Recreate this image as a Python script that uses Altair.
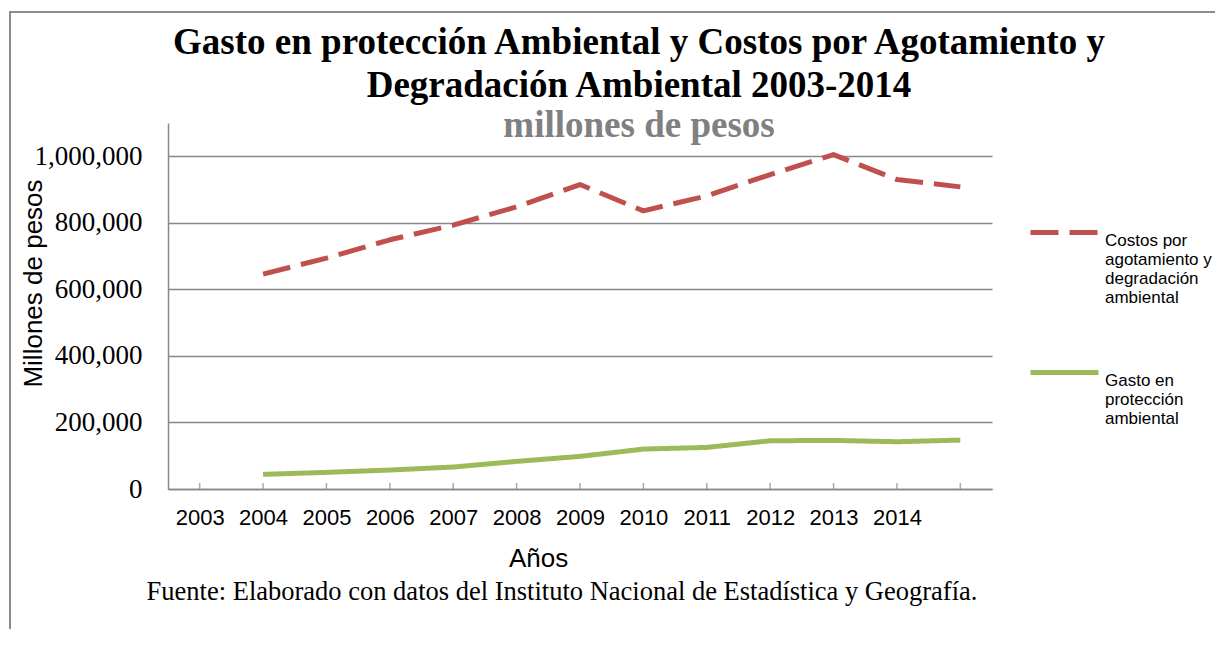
import json
import altair as alt
import pandas as pd

# ---- data ----
years = ["2003", "2004", "2005", "2006", "2007", "2008",
         "2009", "2010", "2011", "2012", "2013", "2014"]
costos = [646000, 694000, 749000, 793000, 848000, 915000,
          836000, 881000, 945000, 1005000, 930000, 908000]
gasto = [44000, 50000, 57000, 66000, 83000, 98000,
         120000, 125000, 145000, 146000, 142000, 147000]

s_costos = "Costos por agotamiento y degradación ambiental"
s_gasto = "Gasto en protección ambiental"
legend_lines = {
    s_costos: ["Costos por", "agotamiento y", "degradación", "ambiental"],
    s_gasto: ["Gasto en", "protección", "ambiental"],
}
y_ticks = [0, 200000, 400000, 600000, 800000, 1000000]

title_lines = ["Gasto en protección Ambiental y Costos por Agotamiento y",
               "Degradación Ambiental 2003-2014"]
subtitle = "millones de pesos"
footer = "Fuente: Elaborado con datos del Instituto Nacional de Estadística y Geografía."

# In the original chart, the points sit one category to the right of the year labels
n_cat = len(years) + 1
rows = []
for i, y in enumerate(years):
    rows.append({"pos": i + 1, "year": y, "serie": s_costos, "valor": costos[i]})
    rows.append({"pos": i + 1, "year": y, "serie": s_gasto, "valor": gasto[i]})
df = pd.DataFrame(rows)
ticks_df = pd.DataFrame({"pos": list(range(n_cat)), "valor": [0] * n_cat})

GRAY = "#878787"
W, H = 824, 366

label_expr = "(" + json.dumps(years) + ")[datum.value] || ''"
x_scale = alt.Scale(domain=[-0.5, n_cat - 0.5], nice=False, zero=False)
y_scale = alt.Scale(domain=[0, 1100000], nice=False)

x_axis = alt.Axis(values=list(range(n_cat)), labelExpr=label_expr,
                  ticks=False, grid=False, domainColor=GRAY, domainWidth=1.5,
                  labelFont="Liberation Sans", labelFontSize=22,
                  labelColor="#000000", labelPadding=18,
                  title="Años", titleFont="Liberation Sans", titleFontSize=26,
                  titleFontWeight="normal", titleColor="#000000",
                  titleX=370, titleY=77, titleBaseline="alphabetic",
                  titleAnchor="middle", titleAlign="center")
y_axis = alt.Axis(values=y_ticks, labelExpr="format(datum.value, ',')", ticks=False,
                  grid=True, gridColor=GRAY, gridWidth=1.3,
                  domainColor=GRAY, domainWidth=1.5,
                  labelFont="Liberation Serif", labelFontSize=27,
                  labelColor="#000000", labelPadding=26,
                  title="Millones de pesos", titleFont="Liberation Sans",
                  titleFontSize=26, titleFontWeight="normal",
                  titleColor="#000000", titleX=-135, titleY=160,
                  titleAngle=270, titleAlign="center",
                  titleBaseline="middle")

leg_expr = json.dumps(legend_lines) + "[datum.label]"
legend = alt.Legend(
    title=None, orient="none", legendX=860, legendY=73,
    symbolType="stroke", symbolSize=4624, symbolStrokeWidth=5,
    labelFont="Liberation Sans", labelFontSize=17, labelColor="#000000",
    labelLimit=400, labelOffset=4, labelBaseline="top",
    labelExpr=leg_expr, rowPadding=30, padding=0,
)

lines = alt.Chart(df).mark_line(strokeJoin="round").encode(
    x=alt.X("pos:Q", scale=x_scale, axis=x_axis),
    y=alt.Y("valor:Q", scale=y_scale, axis=y_axis),
    color=alt.Color("serie:N",
                    scale=alt.Scale(domain=[s_costos, s_gasto],
                                    range=["#C0504D", "#9BBB59"]),
                    legend=legend),
    strokeDash=alt.StrokeDash("serie:N",
                              scale=alt.Scale(domain=[s_costos, s_gasto],
                                              range=[[28, 11], [1, 0]]),
                              legend=legend),
    strokeWidth=alt.value(5),
)

ticks = alt.Chart(ticks_df).mark_tick(orient="vertical", size=6, thickness=1.5,
                                      color=GRAY, yOffset=-3).encode(
    x=alt.X("pos:Q", scale=x_scale, axis=x_axis),
    y=alt.Y("valor:Q", scale=y_scale, axis=y_axis),
)

frame = alt.Chart(pd.DataFrame({"a": [0]})).mark_rect(
    fill=None, stroke="#8c8c8c", strokeWidth=2).encode(
    x=alt.value(-158), x2=alt.value(1200), y=alt.value(-111), y2=alt.value(700))

foot = alt.Chart(pd.DataFrame({"t": [footer]})).mark_text(
    font="Liberation Serif", fontSize=26.5, color="#000000",
    align="center", baseline="alphabetic").encode(
    text="t:N", x=alt.value(394), y=alt.value(477))

chart = alt.layer(frame, lines, ticks, foot).properties(
    width=W, height=H,
    title=alt.TitleParams(
        text=title_lines, subtitle=subtitle,
        font="Liberation Serif", fontSize=37, fontWeight="bold", color="#000000",
        lineHeight=43, subtitleFont="Liberation Serif", subtitleFontSize=37,
        subtitleFontWeight="bold", subtitleColor="#808080", subtitlePadding=3,
        anchor="middle", frame="group", dx=59, offset=-134),
    autosize=alt.AutoSizeParams(type="none"),
    padding={"left": 160, "top": 115, "right": 223, "bottom": 140},
).configure(background="#ffffff").configure_view(strokeWidth=0, strokeOpacity=0)

chart.save("out.html", embed_options={"renderer": "svg", "actions": False})
